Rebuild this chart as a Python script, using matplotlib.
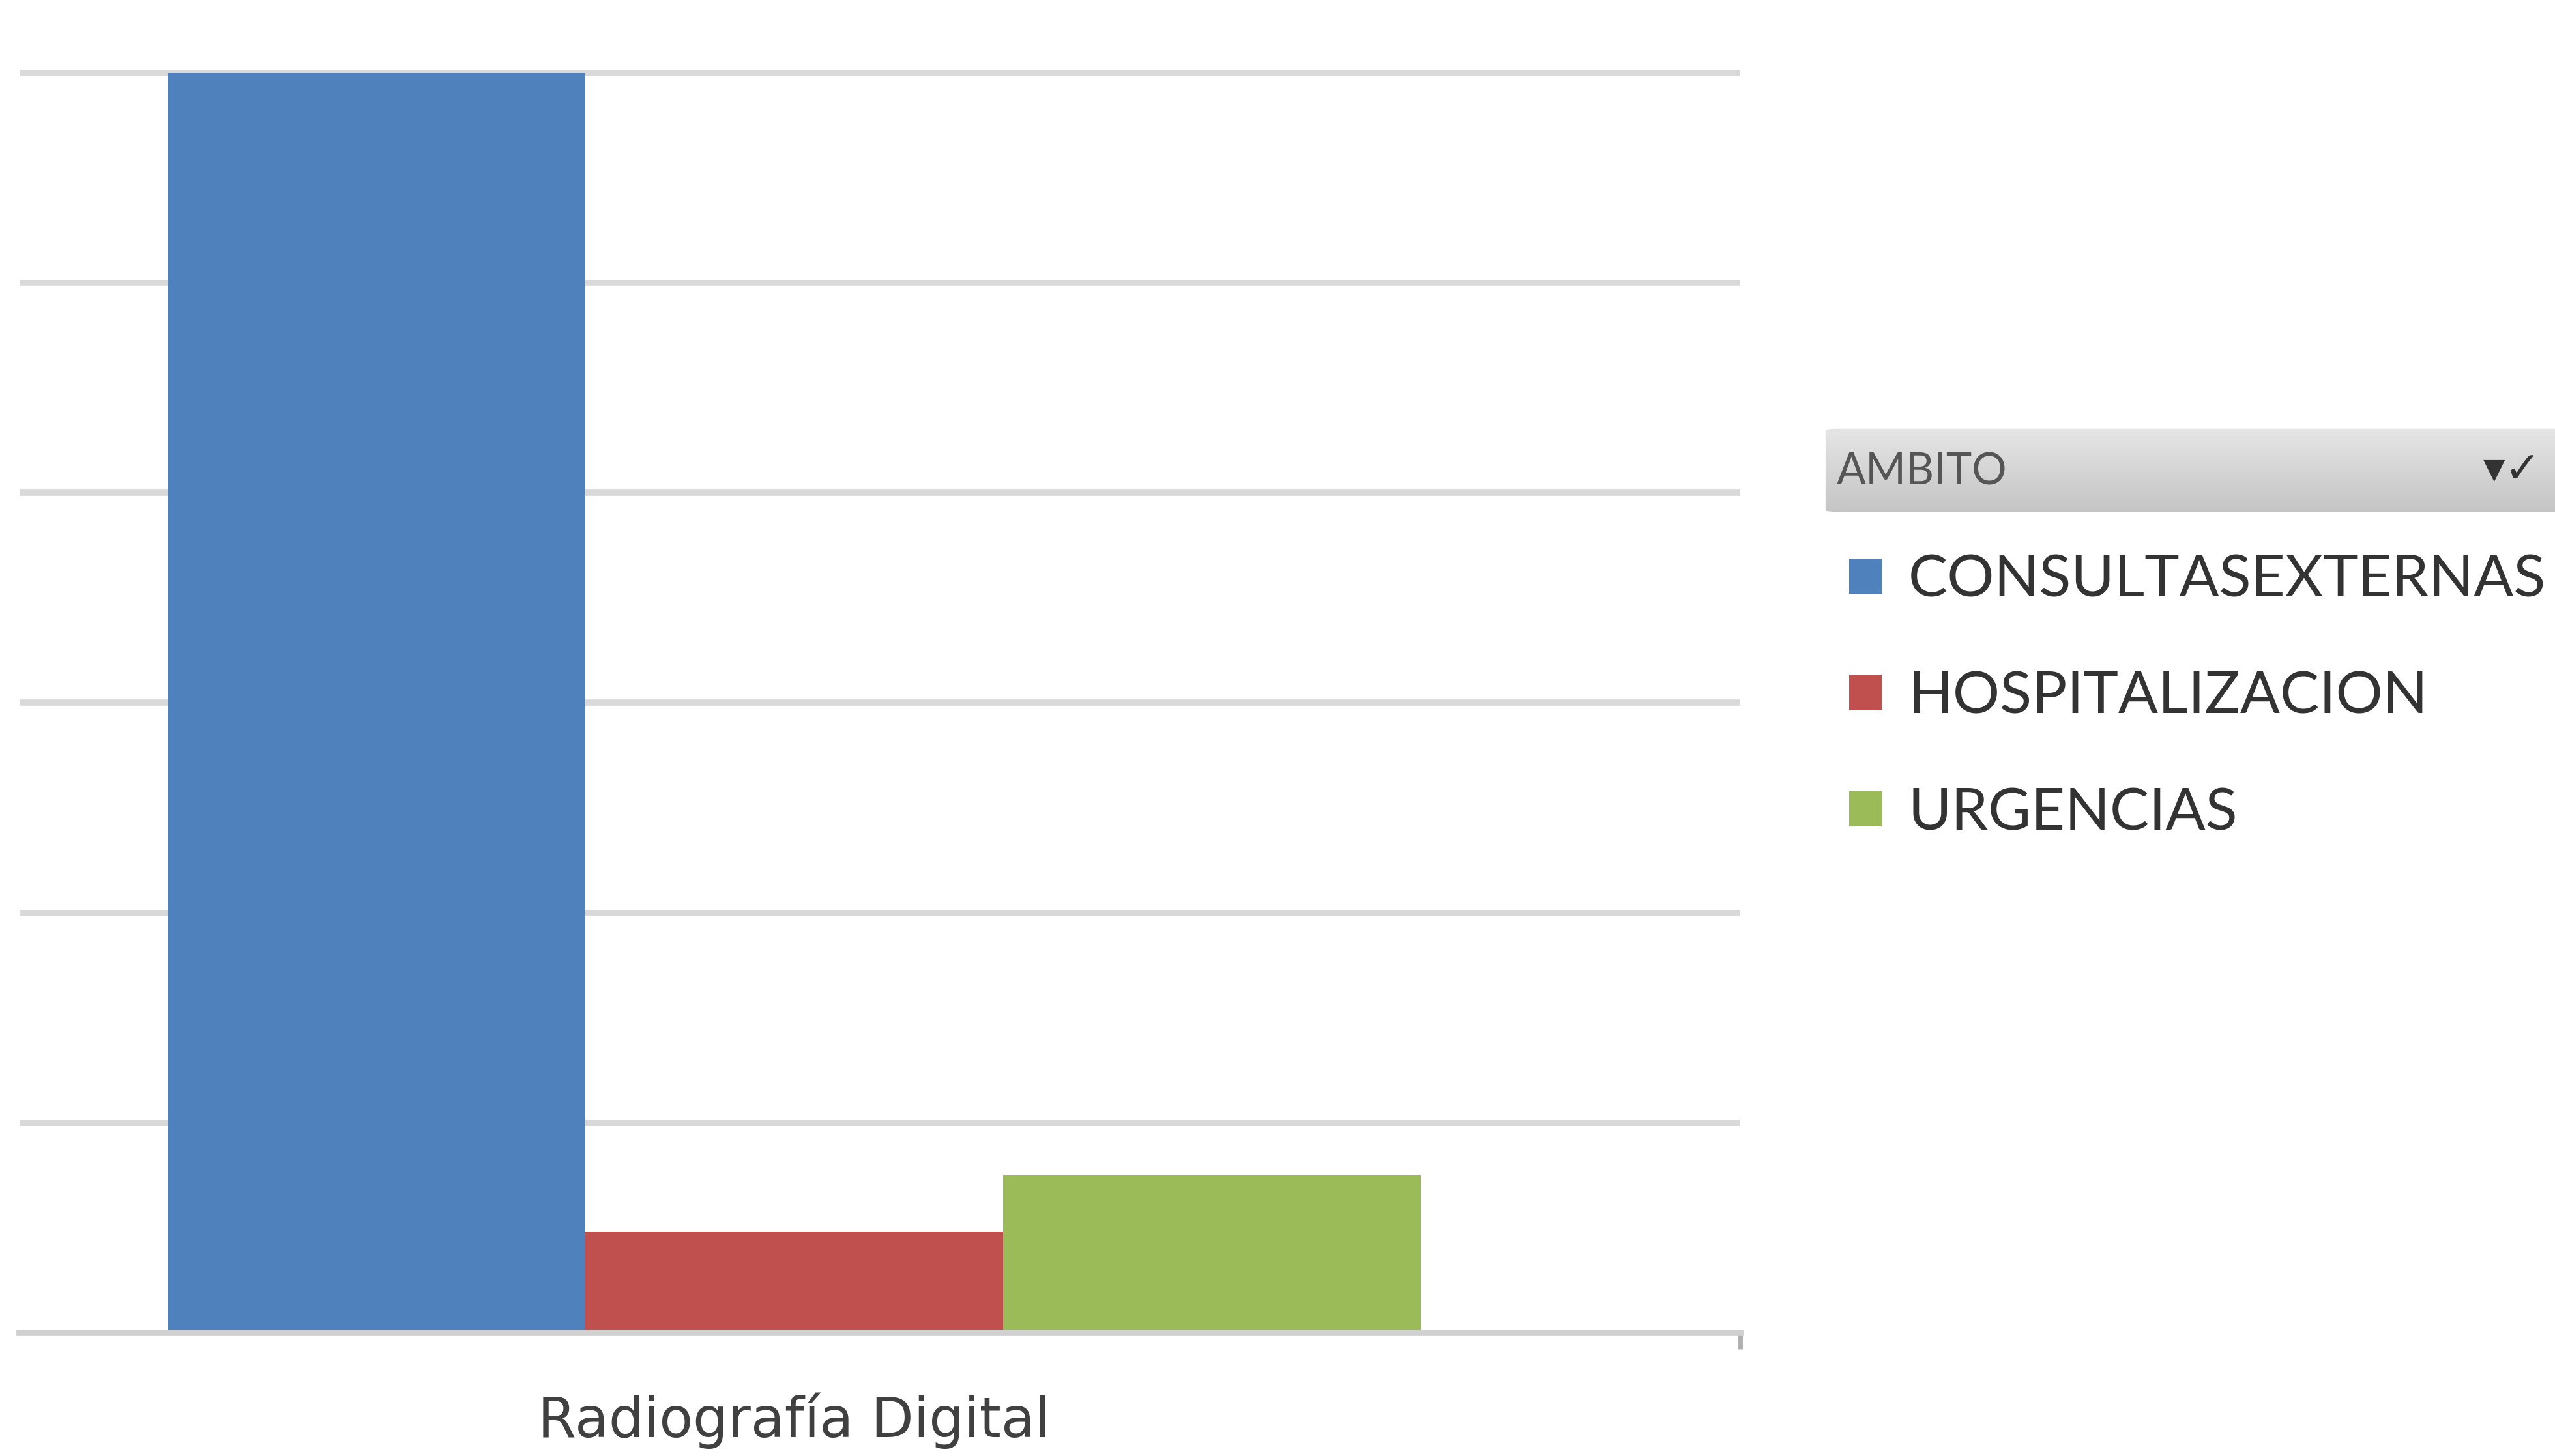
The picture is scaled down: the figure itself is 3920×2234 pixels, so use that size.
import matplotlib
matplotlib.use("Agg")
import matplotlib.pyplot as plt
import numpy as np
from matplotlib.patches import FancyBboxPatch

# ---- data ----
categories = ["Radiografía Digital"]
series_names = ["CONSULTASEXTERNAS", "HOSPITALIZACION", "URGENCIAS"]
series_values = [6.0, 0.48, 0.75]
series_colors = ["#4F81BD", "#C0504D", "#9BBB59"]
legend_title = "AMBITO"

plt.rcParams['font.family'] = ['Lato', 'DejaVu Sans']

W, H, DPI = 3920, 2234, 100
fig = plt.figure(figsize=(W / DPI, H / DPI), dpi=DPI, facecolor="white")

# axes placement (pixel based)
ax_left_px, ax_right_px = 30, 2670
base_px, top_px = 2045, 15
ax = fig.add_axes([ax_left_px / W, (H - base_px) / H,
                   (ax_right_px - ax_left_px) / W, (base_px - top_px) / H])

n = len(series_names)
width = 1.0
x = np.arange(len(categories))
handles = []
for i, (name, vals, col) in enumerate(zip(series_names, series_values, series_colors)):
    h = ax.bar(x + (i - (n - 1) / 2) * width, [vals], width=width, color=col,
               edgecolor="none", label=name, zorder=3)
    handles.append(h)

ax.set_xlim(-1.855, 2.265)
ax.set_ylim(0, 6.3)
ax.set_yticks(np.arange(0, 7, 1))
ax.yaxis.grid(True, color="#d9d9d9", linewidth=7, zorder=0)
ax.tick_params(axis="y", length=0, labelleft=False)
for s in ["left", "right", "top"]:
    ax.spines[s].set_visible(False)
ax.spines["bottom"].set_color("#d0d0d0")
ax.spines["bottom"].set_linewidth(7)
ax.spines["bottom"].set_zorder(4)

ax.set_xticks(x)
ax.set_xticklabels(categories, fontsize=61, color="#404040", family=["DejaVu Sans"])
ax.tick_params(axis="x", length=0, pad=66)
ax.set_xticks([2.265], minor=True)
ax.tick_params(axis="x", which="minor", length=18, width=5, color="#b0b0b0")

# legend items
leg = fig.legend(handles=handles, labels=series_names, loc="upper left",
                 bbox_to_anchor=(2837 / W, (H - 850) / H), frameon=False,
                 fontsize=65, handlelength=0.55, handleheight=0.55,
                 handletextpad=0.45, labelspacing=1.07, borderpad=0, borderaxespad=0)
for t in leg.get_texts():
    t.set_color("#333333")

# legend header (gradient box)
hx0, hy0, hx1, hy1 = 2795, 655, 3960, 788
hax = fig.add_axes([hx0 / W, (H - hy1) / H, (hx1 - hx0) / W, (hy1 - hy0) / H])
hax.set_axis_off()
grad = np.linspace(0, 1, 100).reshape(-1, 1)
img = hax.imshow(grad, aspect="auto", cmap=matplotlib.colors.LinearSegmentedColormap.from_list(
    "g", ["#e6e6e6", "#c4c4c4"]), extent=[0, 1, 0, 1], origin="upper")
clip = FancyBboxPatch((0.005, 0.02), 0.99, 0.96, boxstyle="round,pad=0,rounding_size=0.02",
                      transform=hax.transAxes, facecolor="none", edgecolor="none")
hax.add_patch(clip)
img.set_clip_path(clip)
hax.set_xlim(0, 1); hax.set_ylim(0, 1)
fig.text(2818 / W, (H - 725) / H, legend_title, fontsize=48, color="#555555",
         va="center", ha="left")
fig.text(3810 / W, (H - 722) / H, "▾✓", fontsize=48, color="#333333",
         va="center", ha="left", family=["DejaVu Sans"])

fig.savefig("out.png", dpi=DPI, facecolor="white")
